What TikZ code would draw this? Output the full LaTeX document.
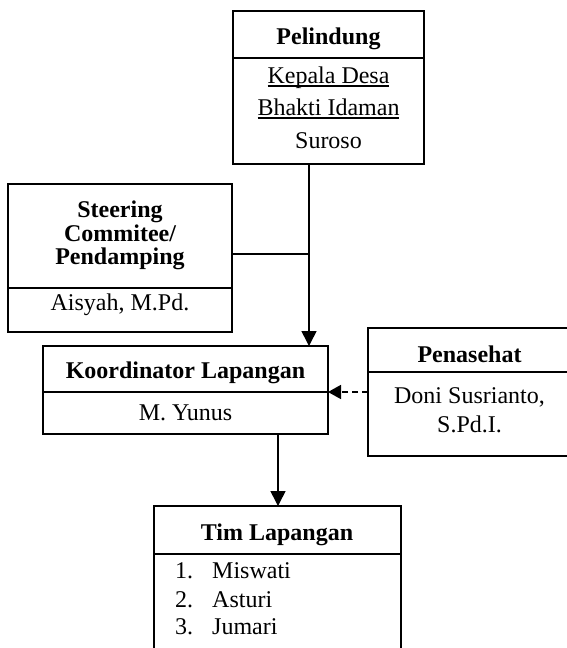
\documentclass[tikz,border=0pt]{standalone}
\usepackage{fontspec}
\setmainfont{Liberation Serif}
\usetikzlibrary{arrows.meta,calc}
\newlength\myulw
\newcommand\myul[1]{\settowidth\myulw{#1}\rlap{\rule[-3.6pt]{\myulw}{1.2pt}}#1}
\begin{document}
\begin{tikzpicture}[x=1pt,y=-1pt,
  box/.style={draw,line width=1.6pt,anchor=north west,inner sep=0pt,outer sep=0pt},
  txt/.style={font=\fontsize{24}{28}\selectfont,inner sep=0pt,anchor=base},
  btxt/.style={font=\fontsize{24}{28}\selectfont\bfseries,inner sep=0pt,anchor=base},
  conn/.style={line width=1.6pt},
  tip/.style={-{Triangle[width=15pt,length=15pt]}},
  dtip/.style={-{Triangle[width=14pt,length=13pt]}}]
\useasboundingbox (0,0) rectangle (567,648);
\clip (0,0) rectangle (567,648);
\fill[white] (0,0) rectangle (567,648);

% boxes
\node[box,minimum width=191pt,minimum height=153pt] (pel) at (233,11) {};
\node[box,minimum width=224pt,minimum height=148pt] (steer) at (8,184) {};
\node[box,minimum width=285pt,minimum height=88pt] (koor) at (43,346) {};
\node[box,minimum width=230pt,minimum height=128pt] (pen) at (368,328) {};
\node[box,minimum width=247pt,minimum height=160pt] (tim) at (154,506) {};

% dividers
\draw[conn] ($(pel.north west)+(0,47)$) -- ($(pel.north east)+(0,47)$);
\draw[conn] ($(steer.north west)+(0,104)$) -- ($(steer.north east)+(0,104)$);
\draw[conn] ($(koor.north west)+(0,46)$) -- ($(koor.north east)+(0,46)$);
\draw[conn] ($(pen.north west)+(0,44)$) -- ($(pen.north east)+(0,44)$);
\draw[conn] ($(tim.north west)+(0,48)$) -- ($(tim.north east)+(0,48)$);

% texts
\node[btxt] (pelT) at (328.5,44) {Pelindung};
\node[txt] (pel1) at (328.5,83) {\myul{Kepala Desa}};
\node[txt] (pel2) at (328.5,115) {\myul{Bhakti Idaman}};
\node[txt] (pel3) at (328.5,148) {Suroso};

\node[btxt] (stT1) at (120,217) {Steering};
\node[btxt] (stT2) at (120,241) {Commitee/};
\node[btxt] (stT3) at (120,264) {Pendamping};
\node[txt] (st1) at (120,310) {Aisyah, M.Pd.};

\node[btxt] (koT) at (185.5,378) {Koordinator Lapangan};
\node[txt] (ko1) at (185.5,420) {M. Yunus};

\node[btxt] (peT) at (469.5,362) {Penasehat};
\node[txt] (pe1) at (469.5,403) {Doni Susrianto,};
\node[txt] (pe2) at (469.5,432) {S.Pd.I.};

\node[btxt] (tiT) at (277,540) {Tim Lapangan};
\node[txt,anchor=base west] (tn1) at (175,578) {1.};
\node[txt,anchor=base west] (tn2) at (175,607) {2.};
\node[txt,anchor=base west] (tn3) at (175,634) {3.};
\node[txt,anchor=base west] (ti1) at (212,578) {Miswati};
\node[txt,anchor=base west] (ti2) at (212,607) {Asturi};
\node[txt,anchor=base west] (ti3) at (212,634) {Jumari};

% connectors
\coordinate (trunk) at (309,0);
\coordinate (sj) at (309,254);
\coordinate (kd) at (0,392);
\coordinate (t2) at (278,0);
\draw[conn,tip] (pel.south -| trunk) -- (koor.north -| trunk);
\draw[conn] (steer.east |- sj) -- (sj);
\draw[conn,dtip,dash pattern=on 6pt off 4pt] (pen.west |- kd) -- (koor.east |- kd);
\draw[conn,tip] (koor.south -| t2) -- (tim.north -| t2);
\end{tikzpicture}
\end{document}
